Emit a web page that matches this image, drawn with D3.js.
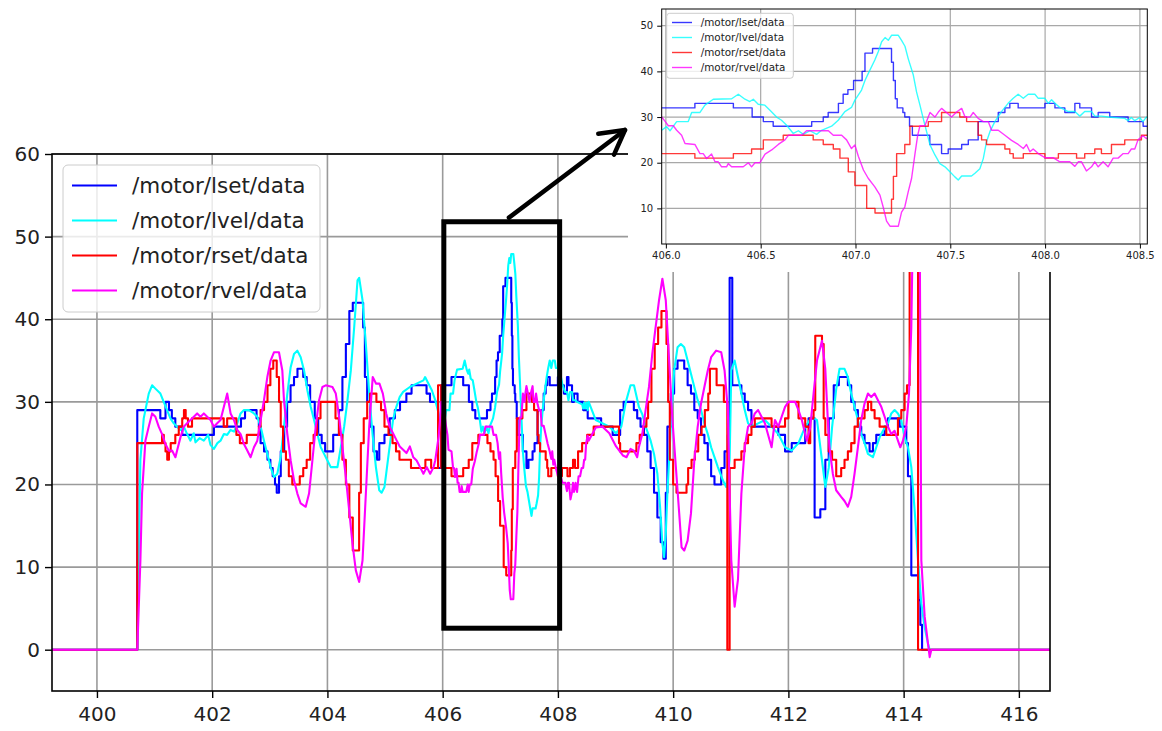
<!DOCTYPE html>
<html>
<head>
<meta charset="utf-8">
<script src="https://cdn.jsdelivr.net/npm/d3@7"></script>
<style>
  body { margin: 0; background: #fff; }
  svg { display: block; font-family: "DejaVu Sans", sans-serif; }
</style>
</head>
<body>
<svg id="chart" width="1162" height="731"></svg>
<script>
// ---- motor topics (time in s, value) ----
const seriesNames = ["/motor/lset/data", "/motor/lvel/data", "/motor/rset/data", "/motor/rvel/data"];
const seriesColors = ["#0000ff", "#00ffff", "#ff0000", "#ff00ff"];

const lset = [
[399.22,0],[400.70,29],[401.10,28],[401.19,30],[401.25,29],[401.30,28],[401.36,27],[401.48,26],[402.03,27],[402.50,28],[402.57,29],[402.77,28],[402.81,27],[402.84,25],[402.90,24],[402.96,23],[403.01,22],[403.05,21],[403.09,20],[403.12,19],[403.16,21],[403.19,24],[403.25,27],[403.30,30],[403.36,32],[403.42,33],[403.48,34],[403.58,33],[403.64,32],[403.70,30],[403.78,28],[403.84,26],[403.90,25],[403.96,24],[404.10,26],[404.20,29],[404.26,33],[404.32,37],[404.38,41],[404.44,42],[404.62,39],[404.65,33],[404.69,30],[404.74,27],[404.80,24],[404.86,23],[404.90,25],[404.99,26],[405.08,28],[405.17,29],[405.26,30],[405.37,31],[405.46,32],[405.72,31],[405.78,30],[405.92,22],[405.975,32],
[406.153,33],[406.356,32],[406.455,30],[406.514,29],[406.566,28],[406.769,29],[406.83,30],[406.856,31],[406.91,33],[406.935,35],[406.96,36],[406.99,38],[407.035,40],[407.05,44],[407.09,45],[407.19,42],[407.20,38],[407.21,34],[407.22,32],[407.25,31],[407.26,30],[407.285,28],[407.30,26],[407.392,24],[407.454,22],[407.489,23],[407.56,24],[407.595,25],[407.647,29],[407.753,31],[407.788,32],[407.814,33],[407.858,32],[407.999,33],[408.052,32],[408.104,31],[408.157,33],[408.183,32],[408.245,30],[408.28,31],[408.341,30],[408.438,29],[408.517,28],
[408.75,27],[408.95,26],[409.08,29],[409.14,30],[409.318,29],[409.376,28],[409.434,27],[409.493,26],[409.551,24],[409.609,22],[409.668,19],[409.726,16],[409.784,13],[409.831,11],[409.872,19],[409.90,27],[409.959,31],[410.017,34],[410.076,35],[410.192,34],[410.251,32],[410.309,31],[410.367,29],[410.426,28],[410.484,26],[410.542,25],[410.601,23],[410.659,21],[410.717,20],[410.834,22],[410.892,24],[410.95,26],[410.98,45],[411.026,32],[411.184,31],[411.242,30],[411.30,29],[411.359,27],[411.825,26],[411.942,24],[412.058,25],[412.292,27],[412.35,28],[412.455,16],[412.554,17],[412.641,23],[412.70,28],[412.787,32],[412.875,33],[413.032,32],[413.09,30],[413.148,29],[413.206,27],[413.264,26],[413.322,25],[413.409,24],[413.467,25],[413.525,26],[413.67,27],[413.728,28],[413.93,27],[414.046,25],[414.075,21],[414.133,9],[414.26,6],[414.29,3],[414.32,0],[416.54,0]
];

const lvel = [
[399.22,0],[400.70,0],[400.74,17],[400.754,23],[400.812,28],[400.899,31],[400.957,32],[401.014,31.6],[401.101,31],[401.159,30],[401.217,29],[401.275,28],[401.333,27.4],[401.391,27],[401.449,26.6],[401.507,27],[401.565,26.1],[401.623,25.3],[401.68,26.2],[401.71,25.1],[401.78,25.6],[401.855,25.3],[401.93,26],[401.97,24.8],[402.029,24.3],[402.09,25],[402.145,25.3],[402.203,26.1],[402.26,26],[402.319,26.6],[402.38,26.4],[402.435,27.4],[402.493,28.6],[402.551,29],[402.638,29],[402.725,28.6],[402.783,28.2],[402.841,27],[402.899,25.3],[402.957,23.7],[403.014,22.1],[403.072,20.9],[403.13,21.3],[403.188,23.3],[403.246,27],[403.304,31],[403.362,34.2],[403.42,35.8],[403.478,36.2],[403.536,35.4],[403.594,33.8],[403.652,31.4],[403.71,29.4],[403.768,27.8],[403.826,26.1],[403.884,24.5],[403.942,23.7],[404.0,22.9],[404.058,22.1],[404.174,22.1],[404.232,24.5],[404.29,27],[404.348,30.2],[404.406,33.8],[404.464,39],[404.522,44.7],[404.551,45],[404.609,42.3],[404.667,37],[404.725,31],[404.783,26.1],[404.841,22.1],[404.899,19.3],[404.94,19],[404.99,19.7],[405.02,21.3],[405.08,24.6],[405.138,27.8],[405.196,29.4],[405.255,30.6],[405.314,31.2],[405.431,31.8],[405.548,32.2],[405.666,32.6],[405.695,33],[405.754,32.2],[405.812,31.4],[405.871,30.2],[405.93,28.6],
[405.978,27.1],[406.004,27.9],[406.022,27],[406.057,29],[406.118,29],[406.136,31],[406.18,31],[406.206,32.6],[406.25,33.9],[406.347,34],[406.382,35],[406.417,33.9],[406.443,33.4],[406.461,33.9],[406.487,32.8],[406.522,32.6],[406.549,31.5],[406.584,30],[406.61,29.3],[406.637,28.2],[406.672,26.4],[406.699,27],[406.725,26.2],[406.76,27],[406.795,26.2],[406.821,27.1],[406.874,28],[406.909,29.3],[406.944,31.2],[406.979,32.1],[406.997,33.7],[407.032,35.9],[407.05,38],[407.067,39.5],[407.102,42.5],[407.12,44.3],[407.138,46.5],[407.156,47.4],[407.173,46.8],[407.19,47.9],[407.226,47.9],[407.243,46.8],[407.261,45.5],[407.278,42.8],[407.305,39.2],[407.322,35.5],[407.34,32.6],[407.357,29.7],[407.375,26.8],[407.393,23.9],[407.419,21.7],[407.445,19.8],[407.472,19.1],[407.498,18],[407.524,16.9],[407.542,16.2],[407.56,17.1],[407.612,17.1],[407.63,17.7],[407.656,18.7],[407.674,20.9],[407.691,24.6],[407.709,26.8],[407.735,29],[407.77,31.2],[407.805,33],[407.832,34.1],[407.858,35],[407.885,34.1],[407.911,35],[407.946,35],[407.964,34.1],[407.999,34.1],[408.017,33],[408.034,33.8],[408.052,33],[408.078,32.1],[408.122,31.2],[408.157,31.2],[408.183,30.2],[408.209,31.2],[408.245,31.2],[408.262,30.2],[408.297,30.2],[408.332,30],[408.42,29.7],[408.438,29.2],[408.455,29.9],[408.473,29.2],[408.499,29.9],[408.516,29],[408.534,30],
[408.657,27.8],[408.892,27],[409.009,26.2],[409.10,27],[409.18,30],[409.26,32],[409.32,32],[409.37,30.5],[409.405,29.4],[409.464,28.5],[409.522,27],[409.609,25.3],[409.668,23.7],[409.726,21.3],[409.773,17.3],[409.813,12.8],[409.843,11.2],[409.872,14],[409.90,18.9],[409.959,27],[410.017,33.8],[410.076,36.6],[410.134,37],[410.192,36.6],[410.251,35],[410.309,33.4],[410.367,31.8],[410.426,30.2],[410.484,29],[410.542,27.4],[410.601,26.1],[410.659,24.5],[410.717,23.3],[410.776,22.1],[410.863,20.5],[410.921,19.7],[410.98,23],[411.009,33.8],[411.067,35],[411.125,33],[411.184,31],[411.242,29],[411.30,27.4],[411.359,27],[411.475,27.4],[411.592,27.8],[411.708,27],[411.825,26.1],[411.942,24.5],[412.058,24.1],[412.175,25],[412.292,27],[412.408,28.2],[412.496,27.8],[412.583,22.9],[412.641,19.7],[412.70,22],[412.758,26.9],[412.829,31.5],[412.887,34],[412.974,34],[413.032,33],[413.09,31],[413.148,29.4],[413.206,27.8],[413.264,26.1],[413.322,25],[413.38,23.7],[413.467,23.3],[413.525,24.5],[413.583,25.7],[413.641,26.5],[413.728,27.4],[413.786,28.6],[413.843,29],[413.901,28.6],[413.959,27.8],[414.017,25.7],[414.075,24.5],[414.133,22.1],[414.191,16.9],[414.249,10.8],[414.307,5.6],[414.365,2.7],[414.423,0.7],[414.452,0],[416.54,0]
];

const rset = [
[399.22,0],[400.70,25],[401.13,26],[401.16,25],[401.19,24],[401.22,23],[401.25,24],[401.28,25],[401.36,26],[401.42,27],[401.48,28],[401.51,29],[401.54,28],[401.58,27],[401.65,28],[402.20,27],[402.26,28],[402.42,26],[402.48,25],[402.60,26],[402.81,27],[402.84,29],[402.90,30],[402.96,32],[403.01,34],[403.06,35],[403.12,33],[403.16,30],[403.19,27],[403.23,24],[403.28,23],[403.33,21],[403.39,20],[403.52,21],[403.58,22],[403.64,23],[403.70,25],[403.76,26],[403.82,28],[403.88,30],[404.14,28],[404.20,26],[404.26,23],[404.32,20],[404.38,16],[404.44,12],[404.55,19],[404.58,25],[404.63,28],[404.69,30],[404.74,31],[404.85,30],[404.93,29],[404.99,27],[405.06,26],[405.13,25],[405.19,24],[405.25,23],[405.45,22],[405.70,23],[405.80,22],[405.92,32],[405.975,22],
[406.153,21],[406.356,22],[406.452,23],[406.514,25],[406.619,26],[406.777,25],[406.83,24],[406.883,23],[406.918,21],[406.962,18],[406.997,15],[407.059,10],[407.103,9],[407.19,12],[407.20,17],[407.217,22],[407.26,24],[407.287,28],[407.384,29],[407.454,31],[407.55,30],[407.586,29],[407.647,26],[407.665,25],[407.691,24],[407.788,23],[407.814,22],[407.832,21],[407.885,22],[407.999,21],[408.07,22],[408.166,21],[408.209,22],[408.262,23],[408.297,22],[408.35,24],[408.42,25],[408.508,26],
[408.62,27],[409.06,25],[409.08,24],[409.362,25],[409.42,26],[409.478,27],[409.536,28],[409.565,30],[409.623,34],[409.68,37],[409.739,39],[409.797,41],[409.884,37],[409.913,30],[409.942,23],[410.0,20],[410.058,19],[410.232,20],[410.26,22],[410.319,23],[410.377,24],[410.435,26],[410.493,27],[410.55,29],[410.609,31],[410.638,34],[410.754,32],[410.88,30],[410.94,0],[410.98,22],[411.067,23],[411.184,24],[411.242,25],[411.30,26],[411.359,27],[411.417,28],[411.708,27],[411.942,28],[412.0,30],[412.175,28],[412.292,27],[412.35,25],[412.379,28],[412.437,29],[412.466,38],[412.583,37],[412.612,28],[412.641,26],[412.70,24],[412.758,23],[412.83,21],[412.916,22],[412.974,23],[413.032,24],[413.09,25],[413.148,27],[413.206,28],[413.322,29],[413.38,30],[413.438,29],[413.496,28],[413.583,27],[413.699,26],[413.901,28],[413.959,29],[414.017,31],[414.058,32],[414.104,52],[414.25,0],[416.54,0]
];

const rvel = [
[399.22,0],[400.70,0],[400.754,10.8],[400.783,18.9],[400.841,25.3],[400.899,27],[400.957,28.6],[401.014,28.2],[401.072,27],[401.13,26.1],[401.188,24.9],[401.246,24.1],[401.304,24.1],[401.362,23.3],[401.391,24.1],[401.449,25.7],[401.507,27],[401.565,27.4],[401.623,27.8],[401.681,28.2],[401.739,28.6],[401.797,28.2],[401.855,28.6],[401.913,28.2],[401.971,27.8],[402.029,27],[402.087,27.4],[402.145,27.8],[402.203,29.4],[402.261,31],[402.319,28.6],[402.377,27.8],[402.435,26.6],[402.493,26.1],[402.551,24.9],[402.609,24.1],[402.667,23.3],[402.725,24.5],[402.783,25.3],[402.841,27.8],[402.899,30.2],[402.957,33],[403.014,35],[403.072,36],[403.159,36],[403.217,33.8],[403.246,30.2],[403.304,26.1],[403.362,22.9],[403.42,20.5],[403.478,18.9],[403.536,17.7],[403.623,17.3],[403.681,18.9],[403.739,22.9],[403.797,27],[403.855,30.2],[403.913,31.8],[403.971,32],[404.087,31.8],[404.145,31],[404.203,28.2],[404.261,24.5],[404.319,20.9],[404.377,16.9],[404.435,12.8],[404.493,9.6],[404.551,8.2],[404.609,10.8],[404.667,18.9],[404.725,27],[404.786,33],[404.845,32.2],[404.903,32.2],[404.962,31],[405.02,28.6],[405.08,27],[405.138,26.2],[405.196,25.4],[405.255,24.6],[405.314,24.2],[405.372,23.8],[405.431,24.6],[405.49,23.3],[405.548,22.9],[405.607,22.1],[405.666,21.3],[405.724,22.1],[405.783,21.3],[405.842,22.1],[405.871,22.9],[405.93,25.8],[405.959,28.2],
[405.978,30],[405.995,29.1],[406.013,28.1],[406.039,28.1],[406.057,27.1],[406.083,26],[406.101,24.2],[406.153,24],[406.18,22],[406.197,22],[406.215,20.9],[406.241,21.9],[406.259,20.2],[406.276,20.2],[406.294,19.1],[406.32,19.1],[406.329,19.8],[406.347,19.1],[406.408,19.1],[406.435,20],[406.452,19.1],[406.47,20],[406.496,20],[406.523,21.9],[406.558,22.8],[406.593,24],[406.628,25],[406.646,26],[406.716,26],[406.742,27],[406.857,27],[406.883,26],[406.927,26],[406.953,25],[406.979,23.1],[406.997,23.9],[407.015,21.4],[407.042,18.4],[407.067,16.6],[407.102,14.7],[407.129,12.9],[407.146,10.3],[407.164,7.2],[407.182,6.1],[407.226,6.1],[407.243,9.2],[407.26,10.3],[407.278,13.6],[407.296,16.6],[407.313,21.7],[407.328,26],[407.34,28.1],[407.366,28.1],[407.393,31],[407.419,30],[407.437,31.1],[407.454,31.9],[407.48,31],[407.507,30],[407.533,31.1],[407.56,31.9],[407.578,30],[407.604,30],[407.621,31],[407.647,29.7],[407.674,29],[407.7,29],[407.718,27.1],[407.753,27.1],[407.788,26],[407.823,24.9],[407.858,24],[407.885,23.1],[407.902,24],[407.92,22.4],[407.937,23],[407.964,22],[407.999,21.1],[408.042,21.1],[408.078,20.2],[408.13,20.2],[408.157,19.2],[408.175,20.2],[408.192,20.2],[408.218,18.2],[408.245,19.1],[408.262,20.2],[408.28,19.1],[408.306,20.2],[408.332,19.1],[408.359,21],[408.385,21],[408.412,22],[408.438,22],[408.455,23],[408.473,23],[408.49,25],[408.516,25.9],[408.534,25.3],
[408.657,26.9],[408.774,27],[408.892,26.2],[409.009,24.6],[409.13,23.5],[409.19,23.3],[409.26,24.3],[409.318,24.1],[409.376,23.3],[409.405,24.5],[409.464,26.1],[409.522,29],[409.58,31.8],[409.638,35.8],[409.697,39.1],[409.755,42.3],[409.813,44.9],[409.872,42.3],[409.93,35],[409.988,27.8],[410.047,22.1],[410.105,16.5],[410.146,12.4],[410.192,12],[410.251,13.2],[410.309,16.5],[410.367,22.9],[410.426,27],[410.484,29.8],[410.542,31.8],[410.601,33.8],[410.659,35.4],[410.746,36.2],[410.834,36],[410.892,33.8],[410.95,29],[410.98,19],[411.009,10.8],[411.067,5.2],[411.125,8.5],[411.184,18.9],[411.242,24.5],[411.30,27],[411.359,27.4],[411.417,28.6],[411.475,29],[411.534,28.2],[411.592,27.4],[411.708,24.5],[411.767,27.8],[411.825,27],[411.883,28.2],[411.942,29.4],[412.0,30],[412.117,30],[412.175,29],[412.233,27.8],[412.32,25.3],[412.379,26.9],[412.437,31],[412.496,35],[412.583,37.4],[412.64,34],[412.69,27],[412.713,24.5],[412.771,21.3],[412.829,19.3],[412.916,18.5],[412.974,18],[413.032,17.3],[413.09,18.5],[413.148,21.3],[413.206,24.5],[413.264,27.8],[413.322,29.8],[413.38,31],[413.438,30.6],[413.496,31],[413.554,30.2],[413.612,29.4],[413.67,28.2],[413.728,27],[413.786,26.1],[413.843,26.5],[413.901,25.3],[413.942,24.5],[413.988,25.3],[414.046,27],[414.093,31],[414.133,39],[414.162,52],[414.278,52],[414.307,10.8],[414.365,4],[414.423,0.7],[414.452,-0.9],[414.48,0],[416.54,0]
];

// ---- axes ----
const mainXDomain = [399.22, 416.54];
const mainYDomain = [-5, 60];
const mainXTicks = [400, 402, 404, 406, 408, 410, 412, 414, 416];
const mainYTicks = [0, 10, 20, 30, 40, 50, 60];

const insetXDomain = [405.978, 408.539];
const insetYDomain = [2.2, 53.66];
const insetXTicks = [406.0, 406.5, 407.0, 407.5, 408.0, 408.5];
const insetYTicks = [10, 20, 30, 40, 50];

// highlighted window of the main plot, shown enlarged in the inset
const zoomWindow = { t0: 406.02, t1: 408.03, v0: 2.6, v1: 51.8 };

// ---- drawing ----
const svg = d3.select("#chart");
const W = 1162;
const defs = svg.append("defs");

const series = [
  { name: seriesNames[0], color: seriesColors[0], values: lset, step: true },
  { name: seriesNames[1], color: seriesColors[1], values: lvel, step: false },
  { name: seriesNames[2], color: seriesColors[2], values: rset, step: true },
  { name: seriesNames[3], color: seriesColors[3], values: rvel, step: false }
];

function drawPanel(cfg) {
  const g = svg.append("g");
  const b = cfg.box;
  const xs = d3.scaleLinear().domain(cfg.xDomain).range([b.left, b.right]);
  const ys = d3.scaleLinear().domain(cfg.yDomain).range([b.bottom, b.top]);

  if (cfg.background) {
    g.append("rect").attr("x", cfg.background.x).attr("y", cfg.background.y)
      .attr("width", cfg.background.w).attr("height", cfg.background.h).attr("fill", "#fff");
  }

  defs.append("clipPath").attr("id", cfg.id + "-clip").append("rect")
    .attr("x", b.left).attr("y", b.top)
    .attr("width", b.right - b.left).attr("height", b.bottom - b.top);

  // grid
  const grid = g.append("g").attr("stroke", cfg.gridColor).attr("stroke-width", cfg.gridWidth);
  grid.selectAll(".gx").data(cfg.xTicks).join("line").attr("class", "gx")
    .attr("x1", d => xs(d)).attr("x2", d => xs(d)).attr("y1", b.top).attr("y2", b.bottom);
  grid.selectAll(".gy").data(cfg.yTicks).join("line").attr("class", "gy")
    .attr("y1", d => ys(d)).attr("y2", d => ys(d)).attr("x1", b.left).attr("x2", b.right);

  // series
  const plot = g.append("g").attr("clip-path", `url(#${cfg.id}-clip)`);
  series.forEach(s => {
    const line = d3.line().x(d => xs(d[0])).y(d => ys(d[1]))
      .curve(s.step ? d3.curveStepAfter : d3.curveLinear);
    plot.append("path").datum(s.values).attr("d", line)
      .attr("fill", "none").attr("stroke", s.color)
      .attr("stroke-width", cfg.lineWidth).attr("stroke-opacity", cfg.lineOpacity)
      .attr("stroke-linejoin", "round");
  });

  // frame
  g.append("rect").attr("x", b.left).attr("y", b.top)
    .attr("width", b.right - b.left).attr("height", b.bottom - b.top)
    .attr("fill", "none").attr("stroke", "#000").attr("stroke-width", cfg.frameWidth);

  // axes
  const ax = g.append("g").attr("transform", `translate(0,${b.bottom})`)
    .call(d3.axisBottom(xs).tickValues(cfg.xTicks).tickFormat(cfg.xFormat)
      .tickSize(cfg.tickSize).tickPadding(cfg.xPad));
  const ay = g.append("g").attr("transform", `translate(${b.left},0)`)
    .call(d3.axisLeft(ys).tickValues(cfg.yTicks).tickFormat(d3.format("d"))
      .tickSize(cfg.tickSize).tickPadding(cfg.yPad));
  [ax, ay].forEach(a => {
    a.select(".domain").remove();
    a.attr("font-size", cfg.fontSize).attr("font-family", "DejaVu Sans, sans-serif");
    a.selectAll("line").attr("stroke", "#000").attr("stroke-width", cfg.tickWidth);
    a.selectAll("text").attr("fill", "#222");
  });

  // legend
  const L = cfg.legend;
  const lg = g.append("g");
  lg.append("rect").attr("x", L.x).attr("y", L.y).attr("width", L.w).attr("height", L.h)
    .attr("rx", L.r).attr("fill", "#fff").attr("fill-opacity", 0.8)
    .attr("stroke", "#cccccc").attr("stroke-width", 1);
  series.forEach((s, i) => {
    const cy = L.firstRow + i * L.rowGap;
    lg.append("line").attr("x1", L.sampleX0).attr("x2", L.sampleX1).attr("y1", cy).attr("y2", cy)
      .attr("stroke", s.color).attr("stroke-width", cfg.lineWidth).attr("stroke-opacity", cfg.lineOpacity);
    lg.append("text").attr("x", L.textX).attr("y", cy).attr("dy", "0.35em")
      .attr("font-size", L.fontSize).attr("fill", "#222").text(s.name);
  });

  return { xs, ys, g };
}

// main panel
const mainPanel = drawPanel({
  id: "main",
  box: { left: 52, right: 1050, top: 154, bottom: 691 },
  xDomain: mainXDomain, yDomain: mainYDomain,
  xTicks: mainXTicks, yTicks: mainYTicks,
  xFormat: d3.format("d"),
  gridColor: "#9a9a9a", gridWidth: 1.6,
  lineWidth: 2.1, lineOpacity: 1,
  frameWidth: 1.6, tickSize: 7, tickWidth: 1.4,
  xPad: 9, yPad: 5, fontSize: 20,
  legend: { x: 63, y: 165, w: 257, h: 147, r: 5, firstRow: 185.5, rowGap: 35,
            sampleX0: 72, sampleX1: 117, textX: 132, fontSize: 21.5 }
});

// window box around the enlarged interval
const mx = mainPanel.xs, my = mainPanel.ys;
svg.append("rect")
  .attr("x", mx(zoomWindow.t0)).attr("y", my(zoomWindow.v1))
  .attr("width", mx(zoomWindow.t1) - mx(zoomWindow.t0))
  .attr("height", my(zoomWindow.v0) - my(zoomWindow.v1))
  .attr("fill", "none").attr("stroke", "#000").attr("stroke-width", 5);

// inset panel with the enlarged interval
drawPanel({
  id: "inset",
  background: { x: 628, y: 0, w: W - 628, h: 272 },
  box: { left: 661.7, right: 1147.3, top: 9, bottom: 244 },
  xDomain: insetXDomain, yDomain: insetYDomain,
  xTicks: insetXTicks, yTicks: insetYTicks,
  xFormat: d3.format(".1f"),
  gridColor: "#a8a8a8", gridWidth: 1.2,
  lineWidth: 1.4, lineOpacity: 0.78,
  frameWidth: 1, tickSize: 4.5, tickWidth: 1,
  xPad: 3, yPad: 4, fontSize: 10,
  legend: { x: 666.7, y: 13.3, w: 126.6, h: 65, r: 3, firstRow: 22.5, rowGap: 15,
            sampleX0: 672, sampleX1: 692, textX: 700.7, fontSize: 10.4 }
});

// pointer from the window box to the inset
const arrowFrom = [mx(407.15), my(52.3)];
const arrowTo = [625, 130];
const ang = Math.atan2(arrowTo[1] - arrowFrom[1], arrowTo[0] - arrowFrom[0]);
const headLen = 27, headSpread = Math.PI / 6.2;
const headA = [arrowTo[0] - headLen * Math.cos(ang - headSpread), arrowTo[1] - headLen * Math.sin(ang - headSpread)];
const headB = [arrowTo[0] - headLen * Math.cos(ang + headSpread), arrowTo[1] - headLen * Math.sin(ang + headSpread)];
const arrow = svg.append("g").attr("stroke", "#000").attr("stroke-width", 4.5)
  .attr("stroke-linecap", "round").attr("stroke-linejoin", "round").attr("fill", "none");
arrow.append("line").attr("x1", arrowFrom[0]).attr("y1", arrowFrom[1])
  .attr("x2", arrowTo[0]).attr("y2", arrowTo[1]);
arrow.append("path").attr("d", d3.line()([headA, arrowTo, headB]));
</script>
</body>
</html>
